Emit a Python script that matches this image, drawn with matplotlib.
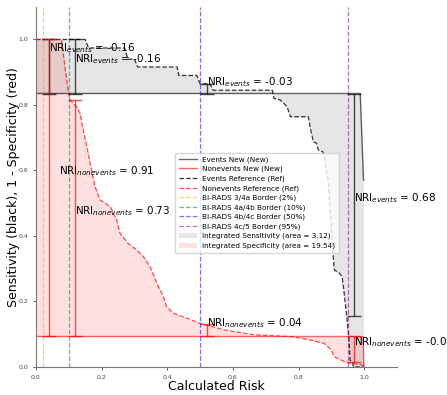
import matplotlib
matplotlib.use("Agg")

import matplotlib.pyplot as plt
import numpy as np


# events (sensitivity) curves, sampled on a shared risk grid
ev_x = [0.0, 0.15, 0.16, 0.27, 0.28, 0.30, 0.31, 0.43, 0.435, 0.49, 0.50,
        0.53, 0.54, 0.72, 0.725, 0.745, 0.765, 0.775, 0.83, 0.835, 0.845,
        0.855, 0.86, 0.875, 0.89, 0.896, 0.902, 0.905, 0.909, 0.924, 0.933,
        0.939, 0.947, 0.954, 0.957, 0.965, 0.967, 0.988, 0.998]
ev_ref = [1.0, 1.0, 0.974, 0.974, 0.94, 0.94, 0.916, 0.916, 0.89, 0.89, 0.865,
          0.865, 0.845, 0.845, 0.82, 0.815, 0.795, 0.764, 0.764, 0.734, 0.688,
          0.683, 0.663, 0.656, 0.571, 0.489, 0.388, 0.348, 0.296, 0.287, 0.275,
          0.226, 0.154, 0.082, 0.02, 0.015, 0.0, 0.0, 0.0]
ev_new = [0.835] * 38 + [0.57]

# nonevents (1 - specificity) curves
ne_x = [0.0, 0.078, 0.088, 0.098, 0.104, 0.124, 0.134, 0.144, 0.155, 0.165,
        0.18, 0.195, 0.226, 0.246, 0.256, 0.28, 0.307, 0.327, 0.348, 0.368,
        0.388, 0.398, 0.419, 0.459, 0.50, 0.573, 0.604, 0.665, 0.777, 0.837,
        0.878, 0.90, 0.909, 0.94, 0.96, 0.997, 0.999]
ne_ref = [1.0, 1.0, 0.917, 0.846, 0.815, 0.795, 0.775, 0.724, 0.673, 0.622,
          0.55, 0.51, 0.49, 0.449, 0.408, 0.378, 0.357, 0.337, 0.306, 0.256,
          0.215, 0.184, 0.164, 0.149, 0.133, 0.113, 0.108, 0.098, 0.093, 0.082,
          0.072, 0.052, 0.031, 0.016, 0.011, 0.005, 0.0]
ne_new = [0.093] * 35 + [0.092, 0.0]

# BI-RADS borders
borders = [0.02, 0.10, 0.50, 0.95]
border_labels = [
    "BI-RADS 3/4a Border (2%)",
    "BI-RADS 4a/4b Border (10%)",
    "BI-RADS 4b/4c Border (50%)",
    "BI-RADS 4c/5 Border (95%)",
]
border_colors = ["orange", "green", "blue", "purple"]

# values at each border, used for the NRI bars
ev_ref_at = [1.0, 1.0, 0.865, 0.155]
ev_new_at = [0.835, 0.835, 0.835, 0.835]
ne_ref_at = [1.0, 0.815, 0.13, 0.015]
ne_new_at = [0.093, 0.093, 0.093, 0.093]
nri_events = ["-0.16", "-0.16", "-0.03", "0.68"]
nri_nonevents = ["0.91", "0.73", "0.04", "-0.08"]

area_sens = 3.12
area_spec = 19.54


def main():
    fig = plt.figure(figsize=(4.47, 3.95), dpi=100)
    ax = fig.add_axes([0.0805, 0.071, 0.8076, 0.912])

    ax.plot(ev_x, ev_new, color="black", alpha=0.6, lw=1.0,
            label="Events New (New)")
    ax.plot(ne_x, ne_new, color="red", alpha=0.6, lw=1.0,
            label="Nonevents New (New)")
    ax.plot(ev_x, ev_ref, color="black", alpha=0.8, lw=0.9, ls="--",
            label="Events Reference (Ref)")
    ax.plot(ne_x, ne_ref, color="red", alpha=0.7, lw=0.9, ls="--",
            label="Nonevents Reference (Ref)")

    for b, lab, c in zip(borders, border_labels, border_colors):
        ax.axvline(b, color=c, alpha=0.55, ls="--", lw=0.9, label=lab)

    ax.fill_between(ev_x, ev_ref, ev_new, color="gray", alpha=0.2, lw=0,
                    label=f"Integrated Sensitivity (area = {area_sens:.2f})")
    ax.fill_between(ne_x, ne_ref, ne_new, color="red", alpha=0.12, lw=0,
                    label=f"Integrated Specificity (area = {area_spec:.2f})")

    # NRI bars just right of each border
    dy_ev = [0.035, 0.0, 0.0, 0.0]
    dy_ne = [0.03, 0.0, 0.0, 0.0]
    dx_ne = [0.03, 0.0, 0.0, 0.0]
    for i, b in enumerate(borders):
        xm = b + 0.02
        lo, hi = sorted([ev_ref_at[i], ev_new_at[i]])
        ax.errorbar([xm], [(lo + hi) / 2], yerr=[[(hi - lo) / 2], [(hi - lo) / 2]],
                    fmt="none", ecolor="black", alpha=0.7, elinewidth=1.0,
                    capsize=5, capthick=1.0)
        ax.text(xm, (lo + hi) / 2 + dy_ev[i], f"NRI$_{{events}}$ = {nri_events[i]}",
                fontsize=7.5, ha="left", va="bottom")

        lo, hi = sorted([ne_ref_at[i], ne_new_at[i]])
        ax.errorbar([xm], [(lo + hi) / 2], yerr=[[(hi - lo) / 2], [(hi - lo) / 2]],
                    fmt="none", ecolor="red", alpha=0.7, elinewidth=1.0,
                    capsize=5, capthick=1.0)
        ax.text(xm + dx_ne[i], (lo + hi) / 2 + dy_ne[i],
                f"NRI$_{{nonevents}}$ = {nri_nonevents[i]}",
                fontsize=7.5, ha="left", va="bottom")

    ax.set_xlim(0, 1.1)
    ax.set_ylim(0, 1.1)
    ax.set_xticks(np.arange(0, 1.01, 0.2))
    ax.set_yticks(np.arange(0, 1.01, 0.2))
    ax.tick_params(labelsize=4.5, length=2, width=0.6, colors="#444444")
    ax.spines["top"].set_visible(False)
    ax.spines["right"].set_visible(False)
    for s in ("left", "bottom"):
        ax.spines[s].set_color("#777777")
        ax.spines[s].set_linewidth(0.8)

    ax.set_xlabel("Calculated Risk", fontsize=9, labelpad=0)
    ax.set_ylabel("Sensitivity (black), 1 - Specificity (red)", fontsize=9,
                  labelpad=-1)

    ax.legend(loc="upper left", bbox_to_anchor=(0.375, 0.605), fontsize=5.2,
              framealpha=0.8, borderpad=0.5, labelspacing=0.42,
              handlelength=2.5)

    fig.savefig("out.png", dpi=100)
    plt.close(fig)


if __name__ == "__main__":
    main()
